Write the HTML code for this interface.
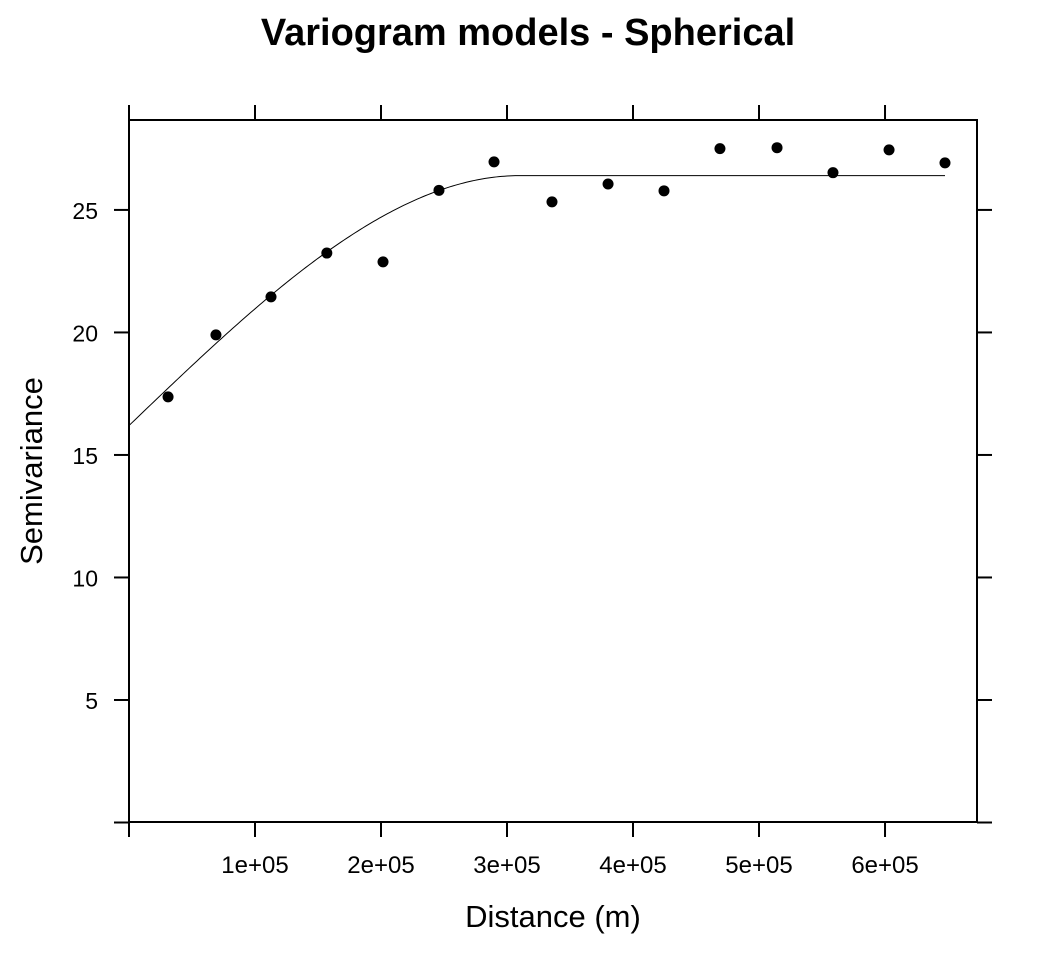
<!DOCTYPE html>
<html><head><meta charset="utf-8"><style>
html,body{margin:0;padding:0;background:#fff;}
svg{display:block;font-family:"Liberation Sans",Arial,sans-serif;}
</style></head><body>
<svg id="chart" width="1056" height="960" viewBox="0 0 1056 960">
<text x="528" y="45" text-anchor="middle" font-size="38" font-weight="bold">Variogram models - Spherical</text>
<rect x="129" y="120" width="848" height="702" fill="none" stroke="#000" stroke-width="2"/>
<g id="axes"></g>
<path id="model" fill="none" stroke="#000" stroke-width="1"/>
<g id="pts"></g>
<text x="553" y="927" text-anchor="middle" font-size="31">Distance (m)</text>
<text transform="translate(42,471) rotate(-90)" text-anchor="middle" font-size="31">Semivariance</text>
</svg>
<script>
const distances=[31000,69000,112700,157000,201600,246000,289700,335700,380200,424600,469000,514300,558700,603200,647600];
const gammas=[17.37,19.9,21.45,23.24,22.88,25.8,26.96,25.33,26.06,25.78,27.5,27.54,26.52,27.45,26.92];
const xTicks=[0,100000,200000,300000,400000,500000,600000];
const xTickLabels=["","1e+05","2e+05","3e+05","4e+05","5e+05","6e+05"];
const yTicks=[0,5,10,15,20,25];
const yTickLabels=["","5","10","15","20","25"];
const nugget=16.2, psill=10.2, range=310000, maxDist=647600;
const X0=129,X1=977,Y0=822.5,Y1=120,xmax=673000,ymax=28.67;
const sx=v=>X0+v/xmax*(X1-X0);
const sy=v=>Y0-v/ymax*(Y0-Y1);
const NS="http://www.w3.org/2000/svg";
const ax=document.getElementById('axes');
function mk(t,a,p){const e=document.createElementNS(NS,t);for(const k in a)e.setAttribute(k,a[k]);p.appendChild(e);return e;}
xTicks.forEach((v,i)=>{const x=sx(v);
 let l=mk('line',{x1:x,x2:x,y1:822,y2:837,stroke:'#000','stroke-width':2},ax);
 
 
 let l2=mk('line',{x1:x,x2:x,y1:105,y2:120,stroke:'#000','stroke-width':2},ax);
 
 
 if(xTickLabels[i]){let t=mk('text',{x:x,y:873,'text-anchor':'middle','font-size':24},ax);t.textContent=xTickLabels[i];
 
 }
});
yTicks.forEach((v,i)=>{const y=sy(v);
 let l=mk('line',{x1:114,x2:129,y1:y,y2:y,stroke:'#000','stroke-width':2},ax);
 
 
 let l2=mk('line',{x1:977,x2:992,y1:y,y2:y,stroke:'#000','stroke-width':2},ax);
 
 
 if(yTickLabels[i]){let t=mk('text',{x:98,y:y+9,'text-anchor':'end','font-size':23},ax);t.textContent=yTickLabels[i];
 
 }
});
let d='';
for(let k=0;k<=300;k++){const h=maxDist*k/300;const r=h/range;
 const g=h>=range?nugget+psill:nugget+psill*(1.5*r-0.5*r*r*r);
 d+=(k?'L':'M')+sx(h).toFixed(2)+','+sy(g).toFixed(2);}
document.getElementById('model').setAttribute('d',d);
const pg=document.getElementById('pts');
distances.forEach((v,i)=>{const c=mk('circle',{cx:sx(v),cy:sy(gammas[i]),r:5.5,fill:'#000'},pg);
 
 });
</script>
</body></html>
